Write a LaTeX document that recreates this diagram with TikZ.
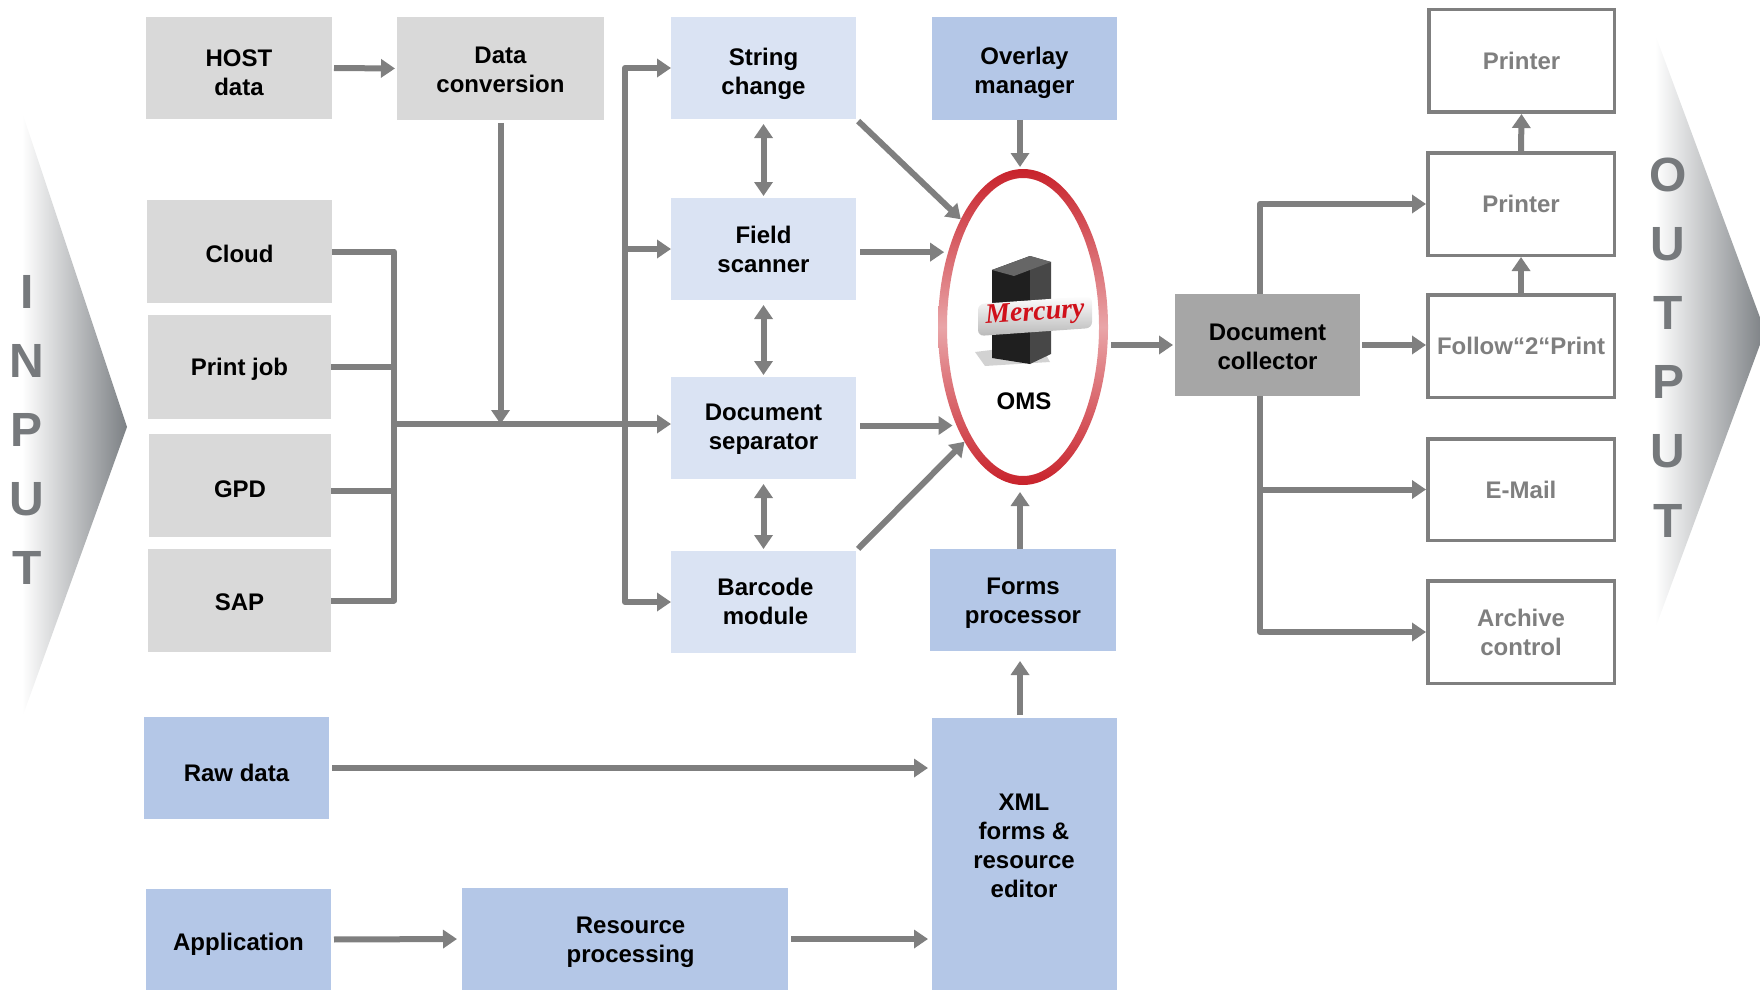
\documentclass[tikz,border=0pt]{standalone}
\usepackage{fontspec}
\setmainfont{Liberation Sans}
\newfontfamily\mercfont{Liberation Serif}
\usetikzlibrary{arrows.meta,shapes.geometric,calc}
\definecolor{boxgray}{HTML}{D9D9D9}
\definecolor{lblue}{HTML}{DAE3F3}
\definecolor{mblue}{HTML}{B4C7E7}
\definecolor{dgray}{HTML}{A6A6A6}
\definecolor{agray}{HTML}{7F7F7F}
\definecolor{lettergray}{HTML}{76797C}
\definecolor{chevgray}{HTML}{7C8084}
\definecolor{ringred}{HTML}{C8222B}
\definecolor{ringpink}{HTML}{E9A5A8}
\definecolor{mercred}{HTML}{D0101A}
\begin{document}
\begin{tikzpicture}[x=0.5pt,y=-0.5pt,
  box/.style={inner sep=0pt, outer sep=0pt, align=center, font=\bfseries\fontsize{12}{14.5}\selectfont, text=black},
  sz/.style 2 args={minimum width=#1pt, minimum height=#2pt},
  gbox/.style={box, fill=boxgray},
  lbbox/.style={box, fill=lblue},
  mbbox/.style={box, fill=mblue},
  dbox/.style={box, fill=dgray},
  obox/.style={box, fill=white, draw=agray, line width=1.75pt, text=agray, outer sep=0.875pt},
  arr/.style={draw=agray, line width=3pt, -{Triangle[length=7pt,width=9pt]}},
  dbl/.style={draw=agray, line width=3pt, {Triangle[length=7pt,width=9pt]}-{Triangle[length=7pt,width=9pt]}},
  ln/.style={draw=agray, line width=3pt},
  bigletter/.style={font=\bfseries\fontsize{24}{24}\selectfont, text=lettergray, inner sep=0pt}
]
\useasboundingbox (0,0) rectangle (1760,990);

% chevrons
\shade[left color=white, right color=chevgray] (22,112) -- (127,427) -- (22,718) -- cycle;
\shade[left color=white, right color=chevgray] (1655,34) -- (1765,331) -- (1655,629) -- cycle;

% INPUT / OUTPUT letters
\node[bigletter] (i1) at (27,292) {I};
\node[bigletter] (i2) at (27,361) {N};
\node[bigletter] (i3) at (27,430) {P};
\node[bigletter] (i4) at (27,499) {U};
\node[bigletter] (i5) at (27,568) {T};
\node[bigletter] (o1) at (1668,175) {O};
\node[bigletter] (o2) at (1668,244) {U};
\node[bigletter] (o3) at (1668,313) {T};
\node[bigletter] (o4) at (1668,382) {P};
\node[bigletter] (o5) at (1668,451) {U};
\node[bigletter] (o6) at (1668,521) {T};

% input boxes
\node[gbox, sz={93}{51}] (host) at (239,68) {};
\node[box] (hostt) at ([yshift=-2.25pt]host.center) {HOST\\data};
\node[gbox, sz={103.5}{51.5}] (dconv) at (500.5,68.5) {};
\node[box] (dconvt) at ([yshift=-0.5pt]dconv.center) {Data\\conversion};
\node[gbox, sz={92.5}{51.5}] (cloud) at (239.5,251.5) {};
\node[box] (cloudt) at ([yshift=-1.1pt]cloud.center) {Cloud};
\node[gbox, sz={91.5}{52}] (pjob) at (239.5,367) {};
\node[box] (pjobt) at ([yshift=-1.1pt]pjob.center) {Print job};
\node[gbox, sz={91}{51.5}] (gpd) at (240,485) {};
\node[box] (gpdt) at ([yshift=-2.25pt]gpd.center) {GPD};
\node[gbox, sz={91.5}{51.5}] (sap) at (239.5,600.5) {};
\node[box] (sapt) at ([yshift=-1.1pt]sap.center) {SAP};

% module column
\node[lbbox, sz={92.5}{51}] (strc) at (763.5,68) {};
\node[box] (strct) at ([yshift=-2.8pt]strc.center) {String\\change};
\node[lbbox, sz={92.5}{51}] (field) at (763.5,249) {};
\node[box] (fieldt) at (field.center) {Field\\scanner};
\node[lbbox, sz={92.5}{51}] (docsep) at (763.5,428) {};
\node[box] (docsept) at ([yshift=-0.5pt]docsep.center) {Document\\separator};
\node[lbbox, sz={92.5}{51}] (barc) at (763.5,602) {};
\node[box] (barct) at ([xshift=1pt,yshift=0.5pt]barc.center) {Barcode\\module};

\node[mbbox, sz={92.5}{51.5}] (over) at (1024.5,68.5) {};
\node[box] (overt) at ([yshift=-2.25pt]over.center) {Overlay\\manager};
\node[mbbox, sz={93}{51}] (forms) at (1023,600) {};
\node[box] (formst) at ([yshift=-1.7pt]forms.center) {Forms\\processor};
\node[mbbox, sz={92.5}{136}] (xml) at (1024.5,854) {};
\node[box] (xmlt) at (1024,846) {XML\\forms \&\\resource\\editor};
\node[mbbox, sz={92.5}{51}] (raw) at (236.5,768) {};
\node[box] (rawt) at ([yshift=-2.25pt]raw.center) {Raw data};
\node[mbbox, sz={92.5}{50.5}] (app) at (238.5,939.5) {};
\node[box] (appt) at ([yshift=-2.25pt]app.center) {Application};
\node[mbbox, sz={163}{51}] (res) at (625,939) {};
\node[box] (rest) at ([xshift=2.8pt,yshift=-1.4pt]res.center) {Resource\\processing};

% OMS ring
\shade[even odd rule, top color=ringred, bottom color=ringred, middle color=ringpink]
  (1023,327) ellipse [x radius=42.5pt, y radius=79pt]
  (1023,327) ellipse [x radius=38pt, y radius=74.5pt];
\node[ellipse, minimum width=85pt, minimum height=158pt, inner sep=0pt, outer sep=0pt] (oms) at (1023,327) {};

% server
\fill[gray!35] (975,352) -- (1040,344) -- (1050,362) -- (985,366) -- cycle;
\fill[black!88] (992,270) -- (1030,256) -- (1030,364) -- (992,358) -- cycle;
\fill[black!72] (1030,256) -- (1051,262) -- (1051,354) -- (1030,364) -- cycle;
\fill[black!60] (992,270) -- (1030,256) -- (1051,262) -- (1014,276) -- cycle;
\shade[top color=white, bottom color=gray!55, rounded corners=3pt] (978,304) -- (1092,296) -- (1092,328) -- (978,336) -- cycle;
\node[inner sep=0pt, rotate=4, text=mercred, font=\mercfont\bfseries\itshape\fontsize{14}{14}\selectfont] (merc) at (1035,314) {Mercury};
\node[box] (omslbl) at (1024,401) {OMS};

% document collector
\node[dbox, sz={92.5}{51}] (doccoll) at (1267.5,345) {};
\node[box] (doccollt) at ([yshift=-1.1pt]doccoll.center) {Document\\collector};

% outputs
\node[obox, sz={92.75}{51.25}] (pr1) at (1521.5,61) {Printer};
\node[obox, sz={93.25}{51.25}] (pr2) at (1521,204) {Printer};
\node[obox, sz={93.25}{51.25}] (follow) at (1521,346) {Follow“2“Print};
\node[obox, sz={93.25}{50.75}] (email) at (1521,489.5) {E-Mail};
\node[obox, sz={93.25}{51.25}] (arch) at (1521,632) {Archive\\control};

% connectors: input side
\draw[arr, shorten <=1pt, shorten >=1pt] (host.east) -- (dconv.west);
\coordinate (b1) at (394,0);
\coordinate (gpdj) at ([yshift=-3pt]gpd.east);
\draw[ln, line join=round] (cloud.east) -- (b1 |- cloud.east) -- (b1 |- sap.east) -- (sap.east);
\draw[ln] (pjob.east) -- (b1 |- pjob.east);
\draw[ln] (gpdj) -- (b1 |- gpdj);
\coordinate (j) at (394,424);
\draw[arr] (j) -- (j -| docsep.west);
\draw[arr, shorten <=1.5pt] (dconv.south) -- (dconv.south |- j);
\coordinate (b2) at (625,0);
\draw[dbl, line join=round] (strc.west) -- (b2 |- strc.west) -- (b2 |- barc.west) -- (barc.west);
\draw[arr] (b2 |- field.west) -- (field.west);

% column double arrows
\draw[dbl, shorten <=2.5pt, shorten >=1pt] (strc.south) -- (field.north);
\draw[dbl, shorten <=2.5pt, shorten >=1pt] (field.south) -- (docsep.north);
\draw[dbl, shorten <=2.5pt, shorten >=1pt] (docsep.south) -- (barc.north);

% into OMS
\coordinate (omsx) at (1020,0);
\draw[arr, shorten <=1.5pt] (strc.south east) -- (oms.120);
\draw[arr, shorten <=2pt, shorten >=2pt] (field.east |- oms.135) -- (oms.135);
\draw[arr, shorten <=2pt, shorten >=2pt] (docsep.east |- oms.236) -- (oms.236);
\draw[arr, shorten <=1.5pt] (barc.north east) -- (oms.243);
\draw[arr, shorten >=1pt] (omsx |- over.south) -- (omsx |- oms.north);
\draw[arr, shorten >=3.5pt] (omsx |- forms.north) -- (omsx |- oms.south);
\draw[arr, shorten <=1.5pt, shorten >=1pt] (oms.east |- doccoll.west) -- (doccoll.west);

% lower part
\draw[arr, shorten <=1.5pt, shorten >=5pt] (omsx |- xml.north) -- (omsx |- forms.south);
\draw[arr, shorten <=1.5pt, shorten >=2pt] (raw.east) -- (raw.east -| xml.west);
\draw[arr, shorten <=1.5pt, shorten >=2.5pt] (app.east) -- (res.west);
\draw[arr, shorten <=1.5pt, shorten >=2pt] (res.east) -- (res.east -| xml.west);

% outputs
\coordinate (v) at (1260,0);
\draw[arr, line join=round] (v |- doccoll.north) -- (v |- pr2.west) -- (pr2.west);
\draw[arr, shorten <=1pt] (doccoll.east) -- (doccoll.east -| follow.west);
\draw[arr, line join=round] (v |- doccoll.south) -- (v |- arch.west) -- (arch.west);
\draw[arr] (v |- email.west) -- (email.west);
\draw[arr] (follow.north) -- (pr2.south);
\draw[arr] (pr2.north) -- (pr1.south);
\end{tikzpicture}
\end{document}
